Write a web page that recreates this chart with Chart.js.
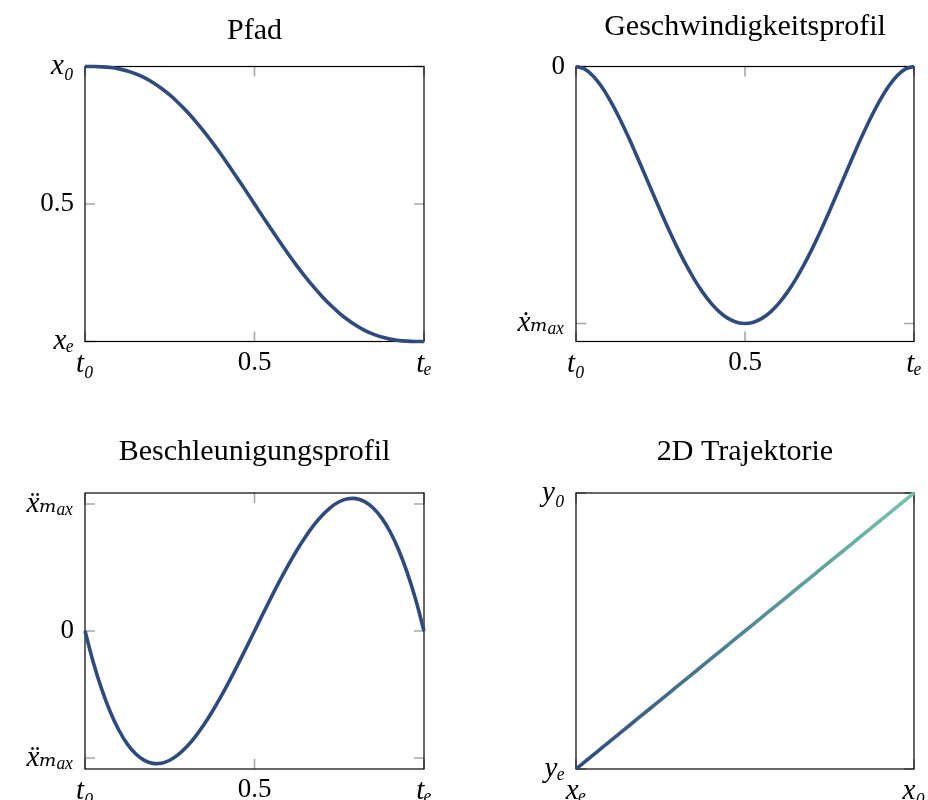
<!DOCTYPE html>
<html>
<head>
<meta charset="utf-8">
<script src="https://cdn.jsdelivr.net/npm/chart.js@4/dist/chart.umd.min.js"></script>
<style>
  html, body { margin: 0; padding: 0; background: #ffffff; }
  #wrap { position: relative; width: 928px; height: 800px; overflow: hidden; background: #fff; }
  canvas { position: absolute; }
</style>
</head>
<body>
<div id="wrap">
  <canvas id="c1" width="464" height="400" style="left:0px;top:0px"></canvas>
  <canvas id="c2" width="490" height="400" style="left:464px;top:0px"></canvas>
  <canvas id="c3" width="464" height="400" style="left:0px;top:400px"></canvas>
  <canvas id="c4" width="490" height="400" style="left:464px;top:400px"></canvas>
</div>
<script>
// ---------- data ----------
const titles = ['Pfad', 'Geschwindigkeitsprofil', 'Beschleunigungsprofil', '2D Trajektorie'];

const tValues = [0, 0.025, 0.05, 0.075, 0.1, 0.125, 0.15, 0.175, 0.2, 0.225, 0.25, 0.275, 0.3, 0.325,
                 0.35, 0.375, 0.4, 0.425, 0.45, 0.475, 0.5, 0.525, 0.55, 0.575, 0.6, 0.625, 0.65,
                 0.675, 0.7, 0.725, 0.75, 0.775, 0.8, 0.825, 0.85, 0.875, 0.9, 0.925, 0.95, 0.975, 1];

const pathValues = [1, 0.99985, 0.9988, 0.99624, 0.9914, 0.98395, 0.9734, 0.95948, 0.9421, 0.92108,
                    0.8965, 0.86838, 0.8369, 0.80231, 0.7648, 0.72479, 0.6826, 0.63853, 0.5931, 0.5468,
                    0.5, 0.4532, 0.4069, 0.36147, 0.3174, 0.27521, 0.2352, 0.19769, 0.1631, 0.13162,
                    0.1035, 0.07892, 0.0579, 0.04052, 0.0266, 0.01605, 0.0086, 0.00376, 0.0012, 0.00015, 0];

const velocityValues = [0, -0.0095, -0.0361, -0.077, -0.1296, -0.1914, -0.2601, -0.3335, -0.4096, -0.4865,
                        -0.5625, -0.636, -0.7056, -0.77, -0.8281, -0.8789, -0.9216, -0.9555, -0.9801, -0.995,
                        -1, -0.995, -0.9801, -0.9555, -0.9216, -0.8789, -0.8281, -0.77, -0.7056, -0.636,
                        -0.5625, -0.4865, -0.4096, -0.3335, -0.2601, -0.1914, -0.1296, -0.077, -0.0361, -0.0095, 0];

const accelValues = [0, -0.2515, -0.4643, -0.6404, -0.7819, -0.8909, -0.9692, -1.0191, -1.0426, -1.0415,
                     -1.0181, -0.9744, -0.9122, -0.8339, -0.7412, -0.6363, -0.5212, -0.3981, -0.2688, -0.1354,
                     0, 0.1354, 0.2688, 0.3981, 0.5212, 0.6363, 0.7412, 0.8339, 0.9122, 0.9744,
                     1.0181, 1.0415, 1.0426, 1.0191, 0.9692, 0.8909, 0.7819, 0.6404, 0.4643, 0.2515, 0];

const trajX = [1, 0.99985, 0.9988, 0.99624, 0.9914, 0.98395, 0.9734, 0.95948, 0.9421, 0.92108,
               0.8965, 0.86838, 0.8369, 0.80231, 0.7648, 0.72479, 0.6826, 0.63853, 0.5931, 0.5468,
               0.5, 0.4532, 0.4069, 0.36147, 0.3174, 0.27521, 0.2352, 0.19769, 0.1631, 0.13162,
               0.1035, 0.07892, 0.0579, 0.04052, 0.0266, 0.01605, 0.0086, 0.00376, 0.0012, 0.00015, 0];
const trajY = [1, 0.99985, 0.9988, 0.99624, 0.9914, 0.98395, 0.9734, 0.95948, 0.9421, 0.92108,
               0.8965, 0.86838, 0.8369, 0.80231, 0.7648, 0.72479, 0.6826, 0.63853, 0.5931, 0.5468,
               0.5, 0.4532, 0.4069, 0.36147, 0.3174, 0.27521, 0.2352, 0.19769, 0.1631, 0.13162,
               0.1035, 0.07892, 0.0579, 0.04052, 0.0266, 0.01605, 0.0086, 0.00376, 0.0012, 0.00015, 0];

// tick values and labels
const timeTickValues = [0, 0.5, 1];
const timeTickLabels = ['t\u2080', '0.5', 't\u2091'];
const pathTickValues = [0, 0.5, 1];
const pathTickLabels = ['x\u2091', '0.5', 'x\u2080'];
const velTickValues = [-1, 0];
const velTickLabels = ['\u1E8B\u2098\u2090\u2093', '0'];
const accTickValues = [-1, 0, 1];
const accTickLabels = ['\u1E8D\u2098\u2090\u2093', '0', '\u1E8D\u2098\u2090\u2093'];
const trajXTickValues = [0, 1];
const trajXTickLabels = ['x\u2091', 'x\u2080'];
const trajYTickValues = [0, 1];
const trajYTickLabels = ['y\u2091', 'y\u2080'];

// ---------- styling ----------
const LINE_COLOR = '#2f4b7c';
const GRAD_START = '#2f4b7c';
const GRAD_END = '#76c4ae';
const SERIF = '"Liberation Serif", "DejaVu Serif", serif';

function tickFont(ctx) {
  const lbl = ctx.tick && ctx.tick.label != null ? String(ctx.tick.label) : '';
  const numeric = /^[-0-9.]+$/.test(lbl);
  return { family: SERIF, size: numeric ? 27 : 29, style: numeric ? 'normal' : 'italic', lineHeight: 1.2 };
}

function makeAxis(kind, min, max, values, labels, fitSize, pad) {
  return {
    type: 'linear',
    min: min,
    max: max,
    grid: { display: false, drawTicks: false },
    border: { display: false },
    afterBuildTicks: (scale) => { scale.ticks = values.map(v => ({ value: v })); },
    afterFit: (scale) => { if (kind === 'x') scale.height = fitSize; else scale.width = fitSize; },
    ticks: {
      autoSkip: false,
      maxRotation: 0,
      minRotation: 0,
      padding: pad,
      color: '#000',
      font: tickFont,
      callback: (value) => {
        const i = values.findIndex(v => Math.abs(v - value) < 1e-9);
        return i >= 0 ? labels[i] : '';
      }
    }
  };
}

// frame + inner tick marks
const framePlugin = {
  id: 'frame',
  beforeDatasetsDraw(chart) {
    const { ctx, chartArea: a, scales } = chart;
    ctx.save();
    ctx.strokeStyle = '#a8a8a8';
    ctx.lineWidth = 1.6;
    const L = 10;
    scales.x.ticks.forEach(t => {
      const px = scales.x.getPixelForValue(t.value);
      ctx.beginPath();
      ctx.moveTo(px, a.bottom); ctx.lineTo(px, a.bottom - L);
      ctx.moveTo(px, a.top); ctx.lineTo(px, a.top + L);
      ctx.stroke();
    });
    scales.y.ticks.forEach(t => {
      const py = scales.y.getPixelForValue(t.value);
      ctx.beginPath();
      ctx.moveTo(a.left, py); ctx.lineTo(a.left + L, py);
      ctx.moveTo(a.right, py); ctx.lineTo(a.right - L, py);
      ctx.stroke();
    });
    ctx.strokeStyle = '#000';
    ctx.lineWidth = 1.2;
    ctx.strokeRect(a.left, a.top, a.right - a.left, a.bottom - a.top);
    ctx.restore();
  }
};

function makeChart(id, opts) {
  const data = opts.xs.map((x, i) => ({ x: x, y: opts.ys[i] }));
  return new Chart(document.getElementById(id), {
    type: 'line',
    data: {
      datasets: [{
        data: data,
        borderColor: opts.color,
        borderWidth: 3.6,
        pointRadius: 0,
        fill: false,
        tension: 0.4,
        clip: false,
        borderCapStyle: 'butt'
      }]
    },
    options: {
      responsive: false,
      animation: false,
      devicePixelRatio: 1,
      layout: { padding: opts.padding },
      plugins: {
        legend: { display: false },
        tooltip: { enabled: false },
        title: {
          display: true,
          text: opts.title,
          fullSize: false,
          color: '#000',
          font: { family: SERIF, size: 30, weight: 'normal', lineHeight: 1.2 },
          padding: opts.titlePad
        }
      },
      scales: {
        x: makeAxis('x', opts.xmin, opts.xmax, opts.xTickValues, opts.xTickLabels, opts.xFit, 5),
        y: makeAxis('y', opts.ymin, opts.ymax, opts.yTickValues, opts.yTickLabels, 85, 11)
      }
    },
    plugins: [framePlugin]
  });
}

function gradientColor(context) {
  const chart = context.chart;
  const a = chart.chartArea;
  if (!a) return GRAD_START;
  const g = chart.ctx.createLinearGradient(a.left, a.bottom, a.right, a.top);
  g.addColorStop(0, GRAD_START);
  g.addColorStop(1, GRAD_END);
  return g;
}

makeChart('c1', {
  title: titles[0], xs: tValues, ys: pathValues, color: LINE_COLOR,
  xmin: 0, xmax: 1, ymin: 0, ymax: 1,
  xTickValues: timeTickValues, xTickLabels: timeTickLabels,
  yTickValues: pathTickValues, yTickLabels: pathTickLabels,
  padding: { left: 0, right: 40, top: 0, bottom: 8.5 },
  titlePad: { top: 13, bottom: 17.5 }, xFit: 50
});

makeChart('c2', {
  title: titles[1], xs: tValues, ys: velocityValues, color: LINE_COLOR,
  xmin: 0, xmax: 1, ymin: -1.07, ymax: 0,
  xTickValues: timeTickValues, xTickLabels: timeTickLabels,
  yTickValues: velTickValues, yTickLabels: velTickLabels,
  padding: { left: 27, right: 40, top: 0, bottom: 8.5 },
  titlePad: { top: 9, bottom: 21.5 }, xFit: 50
});

makeChart('c3', {
  title: titles[2], xs: tValues, ys: accelValues, color: LINE_COLOR,
  xmin: 0, xmax: 1, ymin: -1.087, ymax: 1.087,
  xTickValues: timeTickValues, xTickLabels: timeTickLabels,
  yTickValues: accTickValues, yTickLabels: accTickLabels,
  padding: { left: 0, right: 40, top: 0, bottom: 0 },
  titlePad: { top: 34, bottom: 23 }, xFit: 31
});

makeChart('c4', {
  title: titles[3], xs: trajX, ys: trajY, color: gradientColor,
  xmin: 0, xmax: 1, ymin: 0, ymax: 1,
  xTickValues: trajXTickValues, xTickLabels: trajXTickLabels,
  yTickValues: trajYTickValues, yTickLabels: trajYTickLabels,
  padding: { left: 27, right: 40, top: 0, bottom: 0 },
  titlePad: { top: 34, bottom: 23 }, xFit: 31
});
</script>
</body>
</html>
